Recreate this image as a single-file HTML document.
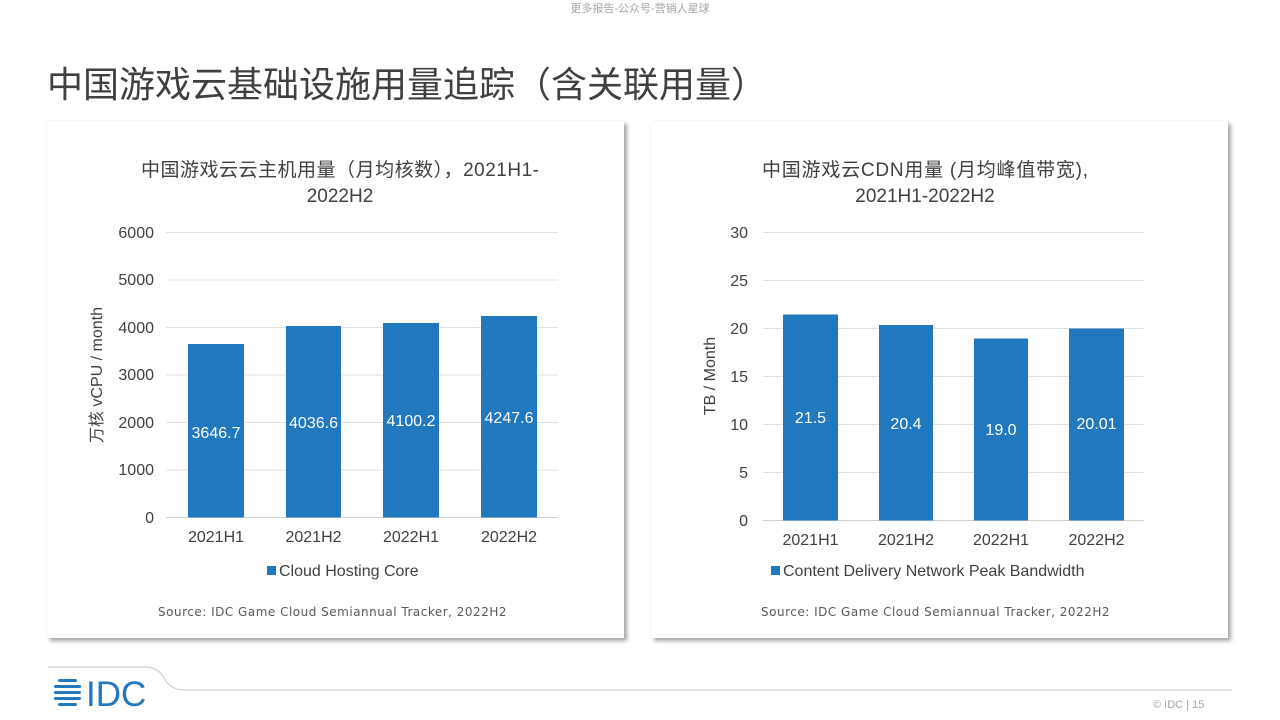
<!DOCTYPE html>
<html><head><meta charset="utf-8"><style>
body{margin:0;width:1280px;height:720px;background:#fff;position:relative;overflow:hidden;font-family:"Liberation Sans","Noto Sans CJK SC",sans-serif}
.a{position:absolute;white-space:nowrap}
.panel{position:absolute;top:121px;width:577px;height:517px;background:#fff;box-shadow:3px 3px 4px rgba(0,0,0,0.35),0 0 3px rgba(0,0,0,0.06)}
</style></head><body>
<div class="a" style="left:0;width:1280px;text-align:center;top:0;font-size:11px;color:#a6a6a6">更多报告-公众号-营销人星球</div>
<div class="a" style="left:47px;top:56px;font-size:36px;color:#404040">中国游戏云基础设施用量追踪（含关联用量）</div>
<div class="panel" style="left:47px"></div>
<div class="panel" style="left:651px"></div>
<svg class="a" style="left:0;top:0" width="1280" height="720" font-family="Liberation Sans, Noto Sans CJK SC, sans-serif">
<g fill="#404040" font-size="19" text-anchor="middle">
<text x="340" y="176" textLength="398">中国游戏云云主机用量（月均核数），2021H1-</text>
<text x="340" y="202">2022H2</text>
<text x="925" y="176" textLength="326">中国游戏云CDN用量 (月均峰值带宽),</text>
<text x="925" y="202">2021H1-2022H2</text>
</g>
<g stroke="#e0e0e0" stroke-width="1">
<line x1="166" x2="558" y1="232.5" y2="232.5"/><line x1="166" x2="558" y1="280" y2="280"/><line x1="166" x2="558" y1="327.5" y2="327.5"/><line x1="166" x2="558" y1="375" y2="375"/><line x1="166" x2="558" y1="422.5" y2="422.5"/><line x1="166" x2="558" y1="470" y2="470"/><line x1="166" x2="558" y1="517.5" y2="517.5" stroke="#d0d0d0"/>
<line x1="763" x2="1144" y1="232.5" y2="232.5"/><line x1="763" x2="1144" y1="280.5" y2="280.5"/><line x1="763" x2="1144" y1="328.5" y2="328.5"/><line x1="763" x2="1144" y1="376.5" y2="376.5"/><line x1="763" x2="1144" y1="424.5" y2="424.5"/><line x1="763" x2="1144" y1="472.5" y2="472.5"/><line x1="763" x2="1144" y1="520.5" y2="520.5" stroke="#d0d0d0"/>
</g>
<g fill="#404040" font-size="16" text-anchor="end">
<text x="154" y="238">6000</text><text x="154" y="285">5000</text><text x="154" y="333">4000</text><text x="154" y="380">3000</text><text x="154" y="428">2000</text><text x="154" y="475">1000</text><text x="154" y="523">0</text>
<text x="748" y="238">30</text><text x="748" y="286">25</text><text x="748" y="334">20</text><text x="748" y="382">15</text><text x="748" y="430">10</text><text x="748" y="478">5</text><text x="748" y="526">0</text>
</g>
<g fill="#2278be">
<rect x="188" y="344" width="56" height="173.5"/><rect x="286" y="326" width="55" height="191.5"/><rect x="383" y="323" width="56" height="194.5"/><rect x="481" y="316" width="56" height="201.5"/>
<rect x="783" y="314.5" width="55" height="206"/><rect x="879" y="325" width="54" height="195.5"/><rect x="974" y="338.5" width="54" height="182"/><rect x="1069" y="328.5" width="55" height="192"/>
</g>
<g fill="#fff" font-size="16" text-anchor="middle">
<text x="216" y="438">3646.7</text><text x="313.5" y="428">4036.6</text><text x="411" y="426">4100.2</text><text x="509" y="423">4247.6</text>
<text x="810.5" y="423">21.5</text><text x="906" y="429">20.4</text><text x="1001" y="435">19.0</text><text x="1096.5" y="429">20.01</text>
</g>
<g fill="#404040" font-size="16" text-anchor="middle">
<text x="216" y="542">2021H1</text><text x="313.5" y="542">2021H2</text><text x="411" y="542">2022H1</text><text x="509" y="542">2022H2</text>
<text x="810.5" y="545">2021H1</text><text x="906" y="545">2021H2</text><text x="1001" y="545">2022H1</text><text x="1096.5" y="545">2022H2</text>
<text transform="translate(102,375) rotate(-90)">万核 vCPU / month</text>
<text transform="translate(715,376) rotate(-90)">TB / Month</text>
</g>
<rect x="267" y="566" width="9" height="9" fill="#2278be"/>
<text x="279" y="576" font-size="16" fill="#404040">Cloud Hosting Core</text>
<rect x="771" y="566" width="9" height="9" fill="#2278be"/>
<text x="783" y="576" font-size="16" fill="#404040">Content Delivery Network Peak Bandwidth</text>
<g font-family="DejaVu Sans, sans-serif" font-size="12" fill="#595959" letter-spacing="0.5">
<text x="158" y="616">Source: IDC Game Cloud Semiannual Tracker, 2022H2</text>
<text x="761" y="616">Source: IDC Game Cloud Semiannual Tracker, 2022H2</text>
</g>
<path d="M48 667 H145 Q158 667 164 678 Q170 690 185 690 H1232" fill="none" stroke="#d0d0d0" stroke-width="1.2"/>
<g fill="#2278be">
<rect x="58" y="679" width="19" height="3" rx="1.5"/><rect x="54" y="685" width="27" height="3" rx="1.5"/><rect x="54" y="691" width="27" height="3" rx="1.5"/><rect x="54" y="697" width="27" height="3" rx="1.5"/><rect x="58" y="703" width="19" height="3" rx="1.5"/>
</g>
<text x="86" y="706" font-size="35" fill="#2278be">IDC</text>
<text x="1153" y="708" font-size="11" fill="#a6a6a6">© IDC |  15</text>
</svg>
</body></html>
